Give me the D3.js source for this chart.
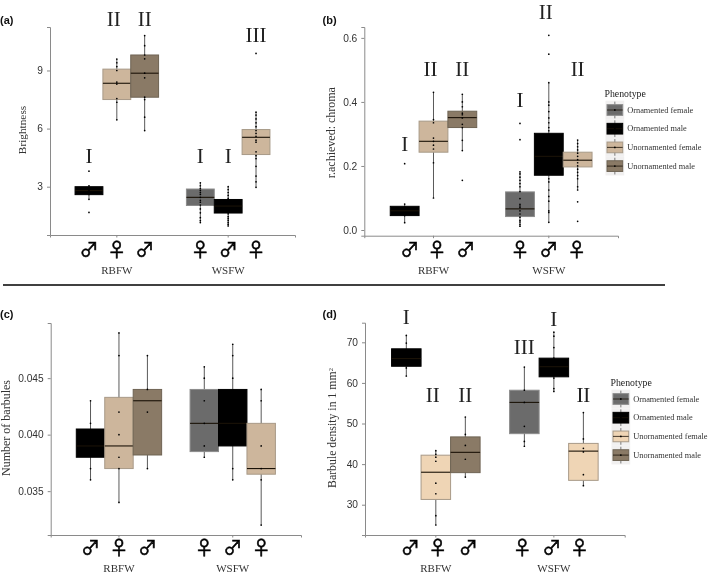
<!DOCTYPE html>
<html><head><meta charset="utf-8">
<style>html,body{margin:0;padding:0;background:#fff}svg{display:block;filter:blur(0.35px)}</style>
<script src="https://cdnjs.cloudflare.com/ajax/libs/d3/7.8.5/d3.min.js"></script>
</head><body><svg id="c" width="709" height="576"></svg>
<script>
const groups = ["RBFW","WSFW"];
const phenotypes = ["Ornamented female","Ornamented male","Unornamented female","Unornamented male"];
const phenotypeColors = ["#6b6b6b","#000000","#cdb69c","#8a7a66"];
const strokeColors = ["#8c8c8c","#000000","#a89a88","#6f6454"];
// One entry per box, in drawing order
const boxGroups = [0,0,0,1,1,1];
const boxSlots = [0,1,2,0,1,2];
const boxPhenotypes = [1,2,3,0,1,2];
const sexSymbols = ["♂","♀","♂","♀","♂","♀"];

const brightnessQ1 = [2.59,7.5,7.62,2.03,1.64,4.66];
const brightnessMedian = [2.8,8.34,8.86,2.45,2.0,5.55];
const brightnessQ3 = [3.0,9.07,9.8,2.88,2.34,5.95];
const brightnessLow = [2.35,6.45,5.9,1.15,0.97,2.97];
const brightnessHigh = [3.05,9.59,10.8,3.2,3.0,6.85];
const brightnessPoints = [
 [3.8,3.05,2.95,2.8,2.7,2.6,2.35,1.67],
 [9.59,9.4,9.2,9.0,8.4,8.3,7.55,7.36,6.45],
 [10.8,10.28,9.8,9.6,8.86,8.62,7.62,7.5,6.59,5.9],
 [3.2,3.05,2.9,2.8,2.7,2.6,2.45,2.3,2.2,2.05,1.85,1.65,1.4,1.25,1.15],
 [3.0,2.85,2.7,2.55,2.4,2.3,1.6,1.45,1.35,1.25,1.15,1.05,0.97],
 [9.88,6.85,6.7,6.5,6.3,6.1,5.9,5.75,5.6,5.4,5.3,4.8,4.6,4.45,4.05,3.55,3.25,2.97]];
const brightnessLetters = ["I","II","II","I","I","III"];
const brightnessLetterValues = [4.6,11.64,11.64,4.6,4.6,10.83];
const brightnessTicks = [3,6,9];

const chromaQ1 = [0.045,0.243,0.32,0.042,0.171,0.197];
const chromaMedian = [0.06,0.277,0.351,0.066,0.23,0.218];
const chromaQ3 = [0.074,0.34,0.371,0.119,0.302,0.243];
const chromaLow = [0.023,0.10,0.248,0.01,0.024,0.125];
const chromaHigh = [0.081,0.43,0.424,0.182,0.46,0.281];
const chromaPoints = [
 [0.207,0.081,0.07,0.045,0.023],
 [0.43,0.345,0.335,0.287,0.277,0.265,0.253,0.21,0.10],
 [0.424,0.40,0.385,0.365,0.36,0.35,0.33,0.32,0.28,0.248,0.155],
 [0.333,0.282,0.182,0.175,0.165,0.155,0.145,0.135,0.12,0.098,0.08,0.075,0.07,0.06,0.05,0.04,0.03,0.025,0.018,0.012],
 [0.608,0.549,0.46,0.40,0.39,0.37,0.35,0.335,0.32,0.31,0.16,0.15,0.125,0.105,0.09,0.06,0.055,0.024],
 [0.281,0.27,0.26,0.25,0.24,0.23,0.22,0.21,0.20,0.19,0.18,0.17,0.16,0.135,0.125,0.088,0.027]];
const chromaLetters = ["I","II","II","I","II","II"];
const chromaLetterValues = [0.267,0.503,0.503,0.405,0.68,0.503];
const chromaTicks = [0,0.2,0.4,0.6];

const barbulesQ1 = [0.038,0.037,0.0382,0.0385,0.039,0.0365];
const barbulesMedian = [0.039,0.039,0.043,0.041,0.041,0.037];
const barbulesQ3 = [0.0405,0.0433,0.044,0.044,0.044,0.041];
const barbulesLow = [0.036,0.034,0.037,0.038,0.036,0.032];
const barbulesHigh = [0.043,0.049,0.047,0.046,0.048,0.044];
const barbulesPoints = [
 [0.043,0.041,0.037,0.036],
 [0.049,0.047,0.042,0.040,0.038,0.037,0.034],
 [0.047,0.044,0.042,0.037],
 [0.046,0.045,0.043,0.041,0.039,0.038],
 [0.048,0.047,0.045,0.037,0.036],
 [0.044,0.043,0.039,0.037,0.036,0.032]];
const barbulesTicks = [0.035,0.04,0.045];

const densityQ1 = [64.1,31.3,37.9,47.5,61.5,36];
const densityMedian = [66,38,42.9,55.2,64,43.2];
const densityQ3 = [68.4,42.2,46.7,58.2,66.1,45.1];
const densityLow = [61.6,25,36.8,44.4,57.9,34.7];
const densityHigh = [71.7,43.3,51.6,63.9,72.5,52.7];
const densityPoints = [
 [71.7,69.8,63.7,61.7],
 [43.3,42.4,41.7,40.7,35.3,32.7,27.3,25],
 [51.6,47.3,44.6,41.2,36.8],
 [63.9,58.2,55.2,49.3,45.6,44.4],
 [72.5,71.5,68.7,66.1,61.2,58.6,57.9],
 [52.7,46.2,43.9,43,37.4,34.7]];
const densityLetters = ["I","II","II","III","I","II"];
const densityLetterValues = [76.3,57,57,68.9,75.8,57];
const densityTicks = [30,40,50,60,70];

const svg = d3.select("#c");
const SERIF = "'Liberation Serif',serif", SANS = "'Liberation Sans',Arial,sans-serif";

function panel(o){
  const g = svg.append("g");
  const x0 = d3.scaleBand().domain(groups).range([o.left,o.right]).paddingInner(0.25).paddingOuter(0.225);
  const x1 = d3.scaleBand().domain([0,1,2]).range([0,x0.bandwidth()]);
  const y = d3.scaleLinear().domain(o.domain).range([o.bottom,o.top]);
  const fills = phenotypeColors.slice();
  if(o.lightFemale) fills[2] = o.lightFemale;
  const cx = i => x0(groups[boxGroups[i]])+x1(boxSlots[i])+x1.bandwidth()/2;

  boxGroups.forEach((_,i)=>{
    const c = cx(i), w = x1.bandwidth(), p = boxPhenotypes[i];
    g.append("line").attr("x1",c).attr("x2",c).attr("y1",y(o.low[i])).attr("y2",y(o.high[i]))
      .attr("stroke","#5a5a5a").attr("stroke-width",1);
    g.append("rect").attr("x",c-w/2).attr("width",w).attr("y",y(o.q3[i])).attr("height",y(o.q1[i])-y(o.q3[i]))
      .attr("fill",fills[p]).attr("stroke",strokeColors[p]).attr("stroke-width",1);
    g.append("line").attr("x1",c-w/2).attr("x2",c+w/2).attr("y1",y(o.med[i])).attr("y2",y(o.med[i]))
      .attr("stroke","#1a1207").attr("stroke-width",1.1);
    g.selectAll(null).data(o.points[i]).join("circle").attr("cx",c).attr("cy",d=>y(d)).attr("r",0.85).attr("fill","#000");
    g.append("text").attr("x",c+(o.symOffsets?o.symOffsets[i]:0)).attr("y",o.bottom+o.symY).attr("text-anchor","middle")
      .attr("font-family","'Noto Sans CJK JP'").attr("font-size",19).attr("fill","#000")
      .attr("stroke","#000").attr("stroke-width",0.55).text(sexSymbols[i]);
    if(o.letters){
      g.append("text").attr("x",c-(o.letters[i]==="II"&&boxSlots[i]===1?3:0)).attr("y",y(o.letterValues[i])).attr("dy","0.33em")
        .attr("text-anchor","middle")
        .attr("font-family",SERIF).attr("font-size",21).attr("fill","#222").text(o.letters[i]);
    }
  });

  const ax = g.append("g").attr("transform",`translate(${o.left},0)`)
    .call(d3.axisLeft(y).tickValues(o.ticks).tickSize(3).tickFormat(d3.format(o.fmt)));
  ax.select(".domain").attr("stroke","#8a8a8a").attr("stroke-width",1);
  ax.selectAll(".tick line").attr("stroke","#8a8a8a");
  ax.selectAll("text").attr("font-family",SANS).attr("font-size",10.2).attr("fill","#333").attr("dx",-1);

  const bx = g.append("g").attr("transform",`translate(0,${o.bottom})`)
    .call(d3.axisBottom(x0).tickSize(2.5).tickFormat(""));
  bx.select(".domain").attr("stroke","#8a8a8a").attr("stroke-width",1);
  bx.selectAll(".tick line").attr("stroke","#8a8a8a");

  groups.forEach(k=>{
    g.append("text").attr("x",x0(k)+x0.bandwidth()/2).attr("y",o.bottom+o.groupY).attr("text-anchor","middle")
      .attr("font-family",SERIF).attr("font-size",11).attr("fill","#333").text(k);
  });

  const yt = g.append("text").attr("transform",`translate(${o.titleX},${(o.titleY)}) rotate(-90)`)
    .attr("text-anchor","middle").attr("font-family",SERIF).attr("font-size",o.titleSize).attr("fill","#333");
  yt.text(o.title);
  if(o.sup) yt.append("tspan").attr("dy",-3).attr("font-size",6.5).text(o.sup);

  svg.append("text").attr("x",o.tagX).attr("y",o.tagY).attr("font-family",SANS).attr("font-weight","bold")
    .attr("font-size",11).attr("fill","#111").text(o.tag);

  if(o.legend){
    const L = o.legend;
    svg.append("text").attr("x",L.x-1).attr("y",L.y-13).attr("font-family",SERIF).attr("font-size",9.8).attr("fill","#222").text("Phenotype");
    phenotypes.forEach((name,i)=>{
      const top = L.y+i*L.step-L.step/2, kx = L.x, s = L.step, mid = top+s/2;
      svg.append("rect").attr("x",kx).attr("y",top).attr("width",s).attr("height",s).attr("fill","#f1f0f0");
      svg.append("line").attr("x1",kx+s/2).attr("x2",kx+s/2).attr("y1",top+1).attr("y2",top+s-1).attr("stroke","#5a5a5a").attr("stroke-width",.8);
      svg.append("rect").attr("x",kx+1.5).attr("width",s-3).attr("y",top+4).attr("height",s-8)
        .attr("fill",fills[i]).attr("stroke",strokeColors[i]).attr("stroke-width",1);
      svg.append("line").attr("x1",kx+1.5).attr("x2",kx+s-1.5).attr("y1",mid).attr("y2",mid).attr("stroke","#1a1207").attr("stroke-width",.8);
      svg.append("circle").attr("cx",kx+s/2).attr("cy",mid).attr("r",.9).attr("fill","#000");
      svg.append("text").attr("x",kx+s+3).attr("y",mid+2.5).attr("font-family",SERIF).attr("font-size",8.35).attr("fill","#333").text(name);
    });
  }
}

panel({tag:"(a)",tagX:0,tagY:24,left:50,right:295,top:27,bottom:235,domain:[0.506,11.245],
  q1:brightnessQ1,med:brightnessMedian,q3:brightnessQ3,low:brightnessLow,high:brightnessHigh,points:brightnessPoints,
  letters:brightnessLetters,letterValues:brightnessLetterValues,ticks:brightnessTicks,fmt:"d",
  symY:22,groupY:39,title:"Brightness",titleSize:11.3,titleX:26,titleY:130});
panel({tag:"(b)",tagX:322.5,tagY:24,left:364.3,right:618,top:27,bottom:235.7,domain:[-0.0178,0.634],
  q1:chromaQ1,med:chromaMedian,q3:chromaQ3,low:chromaLow,high:chromaHigh,points:chromaPoints,
  letters:chromaLetters,letterValues:chromaLetterValues,ticks:chromaTicks,fmt:".1f",symOffsets:[5,3.4,3.5,0,0,-1],
  symY:21.3,groupY:38.3,title:"r.achieved: chroma",titleSize:12,titleX:334.5,titleY:132.7,legend:{x:605.5,y:110,step:18.7}});
panel({tag:"(c)",tagX:0,tagY:318,left:50.7,right:301,top:323,bottom:535,domain:[0.03112,0.04988],
  q1:barbulesQ1,med:barbulesMedian,q3:barbulesQ3,low:barbulesLow,high:barbulesHigh,points:barbulesPoints,
  ticks:barbulesTicks,fmt:".3f",symY:20,groupY:37,title:"Number of  barbules",titleSize:12,titleX:10,titleY:428});
panel({tag:"(d)",tagX:322.5,tagY:318,left:365,right:624.7,top:322.7,bottom:535,domain:[22.54,74.83],lightFemale:"#efd5b5",
  q1:densityQ1,med:densityMedian,q3:densityQ3,low:densityLow,high:densityHigh,points:densityPoints,
  letters:densityLetters,letterValues:densityLetterValues,ticks:densityTicks,fmt:"d",symOffsets:[4,2,3,-2,-2,-4],
  symY:20,groupY:37,title:"Barbule density in 1 mm",titleSize:11.8,sup:"2",titleX:336,titleY:428,legend:{x:611.5,y:399,step:18.7}});

const rule = d3.scaleLinear().domain([0,1]).range([3,665]);
svg.append("line").attr("x1",rule(0)).attr("x2",rule(1)).attr("y1",285).attr("y2",285).attr("stroke","#000").attr("stroke-width",1.4);
</script></body></html>
